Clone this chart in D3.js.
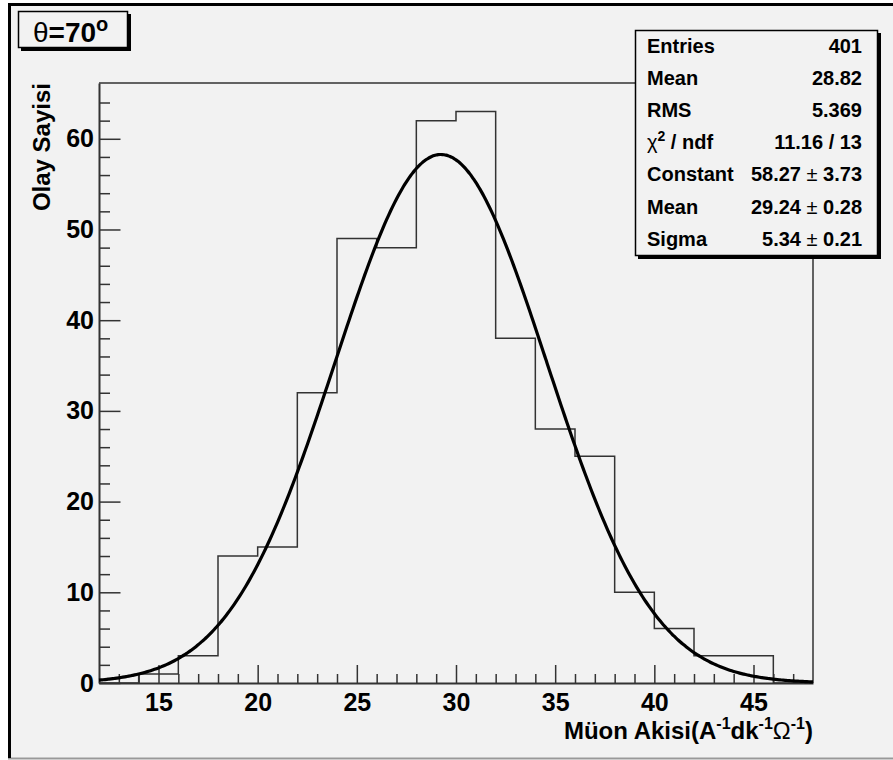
<!DOCTYPE html>
<html>
<head>
<meta charset="utf-8">
<script src="https://cdn.jsdelivr.net/npm/d3@7"></script>
<style>
  body { margin: 0; background: #fff; }
  text { font-family: "Liberation Sans", Arial, Helvetica, sans-serif; }
</style>
</head>
<body>
<script>
// histogram bins (lower edges, width 2) and counts
const binLow = [12, 14, 16, 18, 20, 22, 24, 26, 28, 30, 32, 34, 36, 38, 40, 42, 44, 46]
const counts = [0, 1, 3, 14, 15, 32, 49, 48, 62, 63, 38, 28, 25, 10, 6, 3, 3, 0]
const binWidth = 2

// gaussian fit parameters
const fitConst = 58.27, fitMean = 29.24, fitSigma = 5.34

const xMajor = [15, 20, 25, 30, 35, 40, 45]
const yMajor = [0, 10, 20, 30, 40, 50, 60]

const statLabels = ["Entries", "Mean", "RMS", "chi", "Constant", "Mean", "Sigma"]
const statValues = ["401", "28.82", "5.369", "11.16 / 13", ["58.27", "3.73"], ["29.24", "0.28"], ["5.34", "0.21"]]

const width = 893, height = 760
const margin = ({ top: 83, right: 80, bottom: 77, left: 99 })
const bg = "#f2f2f2"

const svg = d3.select("body").append("svg")
    .attr("width", width)
    .attr("height", height)

// canvas
svg.append("rect").attr("x", 8).attr("y", 4).attr("width", width - 8).attr("height", 754).attr("fill", bg)
svg.append("line").attr("x1", 8).attr("x2", width).attr("y1", 758.5).attr("y2", 758.5).attr("stroke", "#999").attr("stroke-width", 2)
svg.append("line").attr("x1", 9.5).attr("x2", 9.5).attr("y1", 3).attr("y2", 758).attr("stroke", "#000").attr("stroke-width", 3)
svg.append("line").attr("x1", 8).attr("x2", width).attr("y1", 4.5).attr("y2", 4.5).attr("stroke", "#000").attr("stroke-width", 3)

const x = d3.scaleLinear()
    .domain([12, 48])
    .range([margin.left, width - margin.right])

const y = d3.scaleLinear()
    .domain([0, 66.15])
    .range([height - margin.bottom, margin.top])

// frame top / right
svg.append("path")
    .attr("d", `M${x(12)},${y(66.15)}H${x(48)}V${y(0)}`)
    .attr("fill", "none")
    .attr("stroke", "#333")
    .attr("stroke-width", 1.5)

// x axis: minor then major
const xMinor = d3.range(13, 48).filter(v => v % 5 !== 0)
svg.append("g")
    .attr("transform", `translate(0,${y(0)})`)
    .call(d3.axisBottom(x).tickValues(xMinor).tickSizeInner(-9).tickSizeOuter(0).tickFormat(""))
    .call(g => g.selectAll("line").attr("stroke", "#333").attr("stroke-width", 1.5))
    .call(g => g.select(".domain").remove())

svg.append("g")
    .attr("transform", `translate(0,${y(0)})`)
    .call(d3.axisBottom(x).tickValues(xMajor).tickSizeInner(-18).tickSizeOuter(0).tickPadding(10))
    .call(g => g.selectAll("line").attr("stroke", "#333").attr("stroke-width", 1.5))
    .call(g => g.select(".domain").attr("stroke", "#333").attr("stroke-width", 2))
    .call(g => g.selectAll("text")
        .attr("font-size", 25)
        .attr("font-weight", "bold")
        .attr("font-family", "Liberation Sans, Arial, sans-serif")
        .attr("fill", "#000"))

// y axis
const yMinor = d3.range(2, 66, 2).filter(v => v % 10 !== 0)
svg.append("g")
    .attr("transform", `translate(${x(12)},0)`)
    .call(d3.axisLeft(y).tickValues(yMinor).tickSizeInner(-11).tickSizeOuter(0).tickFormat(""))
    .call(g => g.selectAll("line").attr("stroke", "#333").attr("stroke-width", 1.5))
    .call(g => g.select(".domain").remove())

svg.append("g")
    .attr("transform", `translate(${x(12)},0)`)
    .call(d3.axisLeft(y).tickValues(yMajor).tickSizeInner(-21.5).tickSizeOuter(0).tickPadding(5))
    .call(g => g.selectAll("line").attr("stroke", "#333").attr("stroke-width", 1.5))
    .call(g => g.select(".domain").attr("stroke", "#333").attr("stroke-width", 2))
    .call(g => g.selectAll("text")
        .attr("font-size", 25)
        .attr("font-weight", "bold")
        .attr("font-family", "Liberation Sans, Arial, sans-serif")
        .attr("fill", "#000"))

// histogram outline
let steps = []
binLow.forEach((b, i) => {
    steps.push([b, counts[i]])
    steps.push([b + binWidth, counts[i]])
})
const histLine = d3.line()
    .x(d => x(d[0]))
    .y(d => y(d[1]))

svg.append("path")
    .datum(steps)
    .attr("d", histLine)
    .attr("fill", "none")
    .attr("stroke", "#333")
    .attr("stroke-width", 1.5)

// gaussian fit curve
const gaus = v => fitConst * Math.exp(-0.5 * Math.pow((v - fitMean) / fitSigma, 2))
const curvePts = d3.range(12, 48.001, 0.1).map(v => [v, gaus(v)])
svg.append("path")
    .datum(curvePts)
    .attr("d", d3.line().x(d => x(d[0])).y(d => y(d[1])).curve(d3.curveBasis))
    .attr("fill", "none")
    .attr("stroke", "#000")
    .attr("stroke-width", 3.2)

// axis titles
svg.append("text")
    .attr("transform", `translate(50,${margin.top}) rotate(-90)`)
    .attr("text-anchor", "end")
    .attr("font-size", 24)
    .attr("font-weight", "bold")
    .text("Olay Sayisi")

const xt = svg.append("text")
    .attr("x", x(48))
    .attr("y", 739)
    .attr("text-anchor", "end")
    .attr("font-size", 24)
    .attr("font-weight", "bold")
xt.append("tspan").text("Müon Akisi(A")
xt.append("tspan").attr("dy", -10).attr("font-size", 16).text("-1")
xt.append("tspan").attr("dy", 10).text("dk")
xt.append("tspan").attr("dy", -10).attr("font-size", 16).text("-1")
xt.append("tspan").attr("dy", 10).attr("font-weight", "normal").text("Ω")
xt.append("tspan").attr("dy", -10).attr("font-size", 16).text("-1")
xt.append("tspan").attr("dy", 10).text(")")

// title box
svg.append("rect").attr("x", 21).attr("y", 14).attr("width", 110).attr("height", 37).attr("fill", "#000")
svg.append("rect").attr("x", 18.5).attr("y", 11.5).attr("width", 109).attr("height", 36)
    .attr("fill", bg).attr("stroke", "#000").attr("stroke-width", 1.5)
const tt = svg.append("text")
    .attr("x", 33)
    .attr("y", 42)
    .attr("font-size", 28)
    .attr("font-weight", "bold")
tt.append("tspan").attr("font-weight", "normal").text("θ")
tt.append("tspan").text("=70")
tt.append("tspan").attr("dy", -11).attr("font-size", 20).text("o")

// stats box
svg.append("rect").attr("x", 638).attr("y", 33).attr("width", 243).attr("height", 226).attr("fill", "#000")
svg.append("rect").attr("x", 635.5).attr("y", 30.5).attr("width", 242).attr("height", 225)
    .attr("fill", bg).attr("stroke", "#000").attr("stroke-width", 1.5)

const rowY = i => 53 + i * 32.1
statLabels.forEach((lab, i) => {
    const t = svg.append("text")
        .attr("x", 647)
        .attr("y", rowY(i))
        .attr("font-size", 20)
        .attr("font-weight", "bold")
    if (lab === "chi") {
        t.append("tspan").attr("font-weight", "normal").text("χ")
        t.append("tspan").attr("dy", -8).attr("font-size", 14).text("2")
        t.append("tspan").attr("dy", 8).text(" / ndf")
    } else {
        t.text(lab)
    }
})
statValues.forEach((val, i) => {
    const t = svg.append("text")
        .attr("x", 862)
        .attr("y", rowY(i))
        .attr("text-anchor", "end")
        .attr("font-size", 20)
        .attr("font-weight", "bold")
    if (Array.isArray(val)) {
        t.append("tspan").text(val[0] + " ")
        t.append("tspan").attr("font-weight", "normal").text("±")
        t.append("tspan").text(" " + val[1])
    } else {
        t.text(val)
    }
})

// connector stubs of the frame hidden behind the stats box are simply covered
</script>
</body>
</html>
